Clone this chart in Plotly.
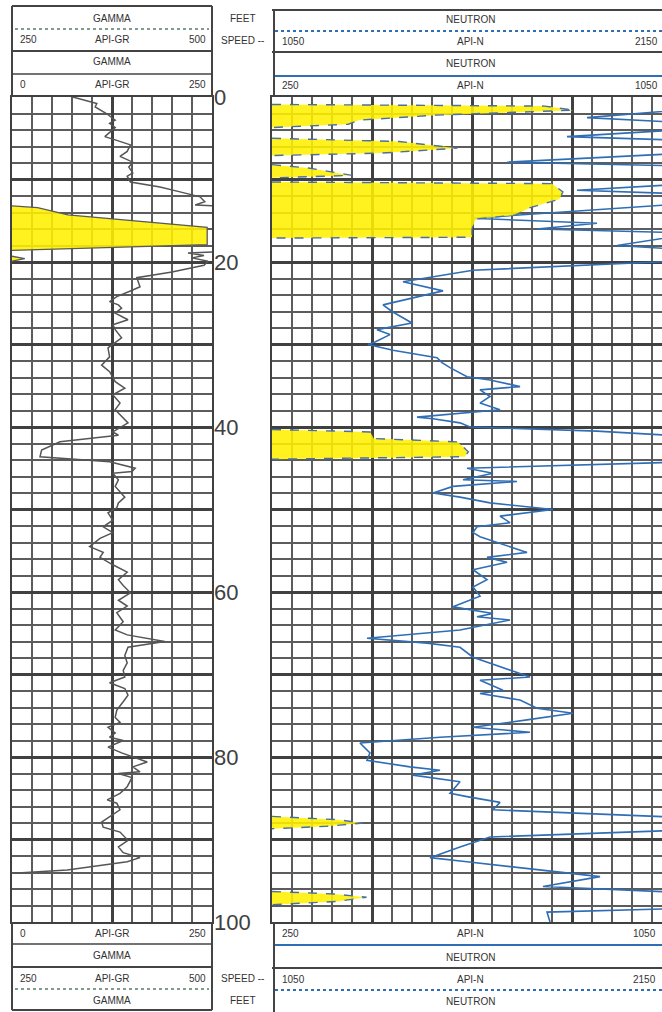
import plotly.graph_objects as go

W, H = 662, 1012
def px(x): return x / W
def py(y): return 1 - y / H

# ---------------- data ----------------
depth_labels = [0, 20, 40, 60, 80, 100]

gamma_depth = [0.0, 0.8, 1.2, 2.0, 2.8, 3.2, 3.7, 4.8, 5.2, 5.8, 6.6, 7.2, 7.9, 8.5, 9.2, 9.6,
               10.3, 10.9, 11.5, 12.1, 12.7, 13.1, 13.4, 18.6, 18.9, 19.2, 19.5, 19.9, 20.4, 21.2,
               21.9, 23.0, 23.4, 24.2, 24.8, 25.2, 25.6, 26.2, 27.0, 27.6, 28.2, 29.2, 30.4, 31.5,
               32.5, 33.3, 34.5, 35.3, 36.1, 37.1, 37.9, 39.5, 40.6, 41.0, 41.8, 42.8, 43.6, 44.2,
               45.0, 45.4, 45.6, 46.4, 47.2, 48.5, 49.2, 49.8, 50.4, 51.3, 52.1, 52.8, 53.5, 54.5,
               55.2, 55.8, 56.7, 57.6, 58.5, 59.2, 60.1, 61.0, 61.7, 62.5, 63.6, 64.6, 65.2, 66.0,
               66.7, 67.7, 68.6, 69.5, 70.3, 71.0, 71.7, 72.5, 73.3, 74.3, 75.2, 75.8, 76.4, 77.1,
               77.6, 78.0, 78.8, 79.5, 80.6, 81.2, 81.8, 82.0, 82.5, 83.6, 84.4, 85.2, 85.6, 86.4,
               87.9, 88.5, 89.1, 90.1, 90.9, 91.6, 92.2, 92.7, 93.7, 94.1]
gamma_api = [76, 106, 104, 118, 129, 122, 129, 116, 129, 148, 144, 135, 151, 146, 151, 144,
             148, 185, 210, 235, 241, 229, 300, 300, 220, 240, 225, 245, 240, 200,
             156, 160, 151, 131, 122, 133, 137, 129, 145, 126, 129, 137, 120, 122,
             112, 122, 129, 141, 126, 135, 129, 145, 126, 133, 60, 37, 35, 122,
             154, 150, 126, 133, 129, 141, 133, 131, 120, 126, 114, 126, 110, 97,
             114, 110, 126, 144, 133, 139, 148, 133, 144, 131, 139, 129, 144, 191,
             145, 141, 144, 139, 141, 122, 141, 145, 139, 131, 129, 135, 120, 129,
             122, 139, 120, 137, 169, 151, 160, 133, 150, 144, 135, 119, 131, 135,
             112, 114, 135, 145, 133, 139, 160, 144, 69, 2]

gamma_bk_depth = [13.2, 13.4, 14.3, 15.0, 15.8, 17.9, 18.3, 18.6, None, 19.3, 19.6, 19.9]
gamma_bk_api = [250, 282, 320, 400, 494, 494, 350, 250, None, 250, 266, 250]

neutron_depth = [0.0, 1.5, 2.5, 3.2, 4.0, 4.8, 5.3, 6.8, 7.9, 8.4, 10.5, 11.3, 11.8, 13.0,
                 14.7, 15.3, 16.0, 16.5, 18.0, 18.6, 19.8, 21.0, 22.4, 23.5, 25.2, 26.0, 27.4,
                 28.2, 28.8, 29.7, 30.0, 30.7, 31.6, 32.2, 32.8, 33.9, 34.3, 35.1, 35.5, 36.3,
                 37.1, 37.9, 38.8, 39.0, 39.5, 40.0, 40.5, 41.2, 44.2, 45.0, 45.6, 46.4, 46.6,
                 47.2, 48.0, 48.5, 49.2, 50.0, 50.8, 51.6, 52.1, 52.8, 53.3, 55.2, 55.8, 56.4,
                 57.3, 58.5, 59.4, 60.5, 61.8, 62.6, 63.0, 63.4, 64.6, 65.6, 66.2, 66.7, 67.9,
                 69.5, 70.3, 70.7, 71.9, 72.3, 73.1, 74.1, 74.7, 75.5, 76.4, 77.0, 77.6, 78.3,
                 79.5, 80.4, 81.2, 81.6, 82.2, 83.0, 84.4, 84.8, 85.5, 86.4, 87.4, 88.8, 89.7,
                 90.9, 92.2, 92.7, 94.5, 95.7, 96.5, 98.3, 98.8, 100.0]
neutron_api = [1100, 1080, 880, 1100, 1060, 840, 1100, 1080, 720, 1100, 1090, 860, 1100, 1060,
               650, 900, 780, 1100, 940, 1100, 1090, 652, 512, 592, 472, 490, 530,
               460, 486, 456, 442, 492, 580, 590, 606, 640, 686, 746, 666, 686,
               666, 706, 540, 572, 626, 646, 900, 1100, 1100, 640, 692, 632, 740,
               612, 572, 626, 686, 812, 706, 726, 660, 652, 666, 760, 680, 720,
               652, 680, 652, 666, 612, 692, 660, 726, 626, 440, 560, 626, 652,
               726, 766, 666, 712, 666, 746, 780, 852, 760, 652, 766, 586, 426,
               446, 440, 526, 586, 532, 626, 606, 640, 706, 692, 1100, 1100, 686,
               626, 566, 640, 906, 792, 1100, 1100, 800, 806]

neutron_bk_depth = [0.9, 1.1, 1.6, 2.2, 2.8, 3.3, 3.7, None,
                    5.0, 5.4, 6.2, 6.8, 7.1, None,
                    8.2, 8.6, 9.5, 9.8, None,
                    10.3, 10.5, 11.5, 12.4, 13.4, 14.3, 14.8, 16.0, 17.0, 17.1, None,
                    40.3, 40.6, 41.4, 41.8, 43.0, 43.6, 43.9, None,
                    87.2, 87.6, 88.0, 88.4, 88.7, None,
                    96.3, 96.6, 97.0, 97.5, 97.9]
neutron_bk_api = [1050, 1800, 1880, 1500, 1290, 1260, 1050, None,
                  1050, 1400, 1560, 1350, 1050, None,
                  1050, 1150, 1270, 1050, None,
                  1050, 1820, 1850, 1840, 1760, 1720, 1610, 1600, 1600, 1050, None,
                  1050, 1320, 1330, 1560, 1590, 1580, 1050, None,
                  1050, 1230, 1300, 1200, 1050, None,
                  1050, 1220, 1310, 1230, 1050]

GR_SCALE = [0, 250]
GR_BK_SCALE = [250, 500]
N_SCALE = [250, 1050]
N_BK_SCALE = [1050, 2150]


def split_zones(ds, vs):
    zones, cur_d, cur_v = [], [], []
    for d, v in zip(ds, vs):
        if d is None:
            if cur_d:
                zones.append((cur_d, cur_v))
            cur_d, cur_v = [], []
        else:
            cur_d.append(d)
            cur_v.append(v)
    if cur_d:
        zones.append((cur_d, cur_v))
    return zones

# ---------------- geometry ----------------
L0, L1 = 12, 212          # gamma track px
R0 = 272                  # neutron track left px (track runs past the page edge)
T0, T1 = 97, 922          # plot top / bottom px
px_per_n = 0.5            # neutron main: 800 units over 400 px
r_range_max = N_SCALE[0] + (W - R0) / px_per_n
bk_range_max = N_BK_SCALE[0] + (W - R0) * (N_BK_SCALE[1] - N_BK_SCALE[0]) / 400

YELLOW = "rgba(255,240,0,0.88)"
BLUE = "#2f6db5"
GREY = "#555555"

fig = go.Figure()

for zd, zv in split_zones(gamma_bk_depth, gamma_bk_api):
    fig.add_trace(go.Scatter(x=zv, y=zd, xaxis="x3", yaxis="y", mode="lines",
                             fill="toself", fillcolor=YELLOW,
                             line=dict(color="#5a5a5a", width=1.3),
                             hoverinfo="skip", showlegend=False))

for zd, zv in split_zones(neutron_bk_depth, neutron_bk_api):
    fig.add_trace(go.Scatter(x=zv, y=zd, xaxis="x4", yaxis="y2", mode="lines",
                             fill="toself", fillcolor=YELLOW,
                             line=dict(color="#4a6fa0", width=1.4, dash="dash"),
                             hoverinfo="skip", showlegend=False))

fig.add_trace(go.Scatter(x=gamma_api, y=gamma_depth, xaxis="x", yaxis="y", mode="lines",
                         line=dict(color=GREY, width=1.5), showlegend=False))
fig.add_trace(go.Scatter(x=neutron_api, y=neutron_depth, xaxis="x2", yaxis="y2", mode="lines",
                         line=dict(color=BLUE, width=1.6), showlegend=False))

grid_major = "#404040"
grid_minor = "#5c5c5c"
GW_MAJ, GW_MIN = 2.6, 1.5

common_x = dict(showticklabels=False, ticks="", zeroline=False, showgrid=True,
                gridcolor=grid_major, gridwidth=GW_MAJ, layer="above traces")
common_y = dict(range=[100, 0], tick0=0, dtick=10, showticklabels=False, ticks="",
                zeroline=False, showgrid=True, gridcolor=grid_major, gridwidth=GW_MAJ,
                minor=dict(tick0=0, dtick=2, showgrid=True, gridcolor=grid_minor, gridwidth=GW_MIN),
                showline=True, linecolor="#404040", linewidth=2.4, layer="above traces",
                domain=[py(T1), py(T0)])
fig.update_layout(
    width=W, height=H, margin=dict(l=0, r=0, t=0, b=0),
    paper_bgcolor="white", plot_bgcolor="white",
    xaxis=dict(domain=[px(L0), px(L1)], range=GR_SCALE, tick0=0, dtick=125,
               minor=dict(tick0=0, dtick=25, showgrid=True, gridcolor=grid_minor, gridwidth=GW_MIN),
               showline=True, linecolor="#404040", linewidth=2.4, mirror=True, anchor="y",
               **common_x),
    yaxis=dict(mirror=True, anchor="x", **common_y),
    xaxis2=dict(domain=[px(R0), 1.0], range=[N_SCALE[0], r_range_max], tick0=250, dtick=200,
                minor=dict(tick0=250, dtick=40, showgrid=True, gridcolor=grid_minor, gridwidth=GW_MIN),
                showline=True, linecolor="#404040", linewidth=2.4, mirror=True, anchor="y2",
                **common_x),
    yaxis2=dict(mirror=False, anchor="x2", **common_y),
    xaxis3=dict(domain=[px(L0), px(L1)], range=GR_BK_SCALE, overlaying="x", anchor="y",
                visible=False),
    xaxis4=dict(domain=[px(R0), 1.0], range=[N_BK_SCALE[0], bk_range_max], overlaying="x2",
                anchor="y2", visible=False),
)

for d in depth_labels:
    fig.add_annotation(x=px(212), xref="paper", y=d, yref="y", text=str(d), showarrow=False,
                       xanchor="left", yanchor="middle",
                       font=dict(family="Liberation Sans, Arial", size=22, color="#404040"))

TXT = dict(family="Liberation Sans Narrow, Liberation Sans, Arial", size=10, color="#333")

def text(x, y, s, anchor="center", size=10):
    f = dict(TXT)
    f["size"] = size
    fig.add_annotation(x=px(x), y=py(y), xref="paper", yref="paper", text=s, showarrow=False,
                       xanchor=anchor, yanchor="middle", font=f)

def hline(x0, x1, y, color="#444", width=2, dash="solid"):
    fig.add_shape(type="line", xref="paper", yref="paper", x0=px(x0), x1=px(x1),
                  y0=py(y), y1=py(y), line=dict(color=color, width=width, dash=dash))

def vline(x, y0, y1, color="#444", width=2):
    fig.add_shape(type="line", xref="paper", yref="paper", x0=px(x), x1=px(x),
                  y0=py(y0), y1=py(y1), line=dict(color=color, width=width))

GREEN_DOT = "#7f9c8e"

# ---- top header: gamma ----
hline(L0, L1, 6); hline(L0, L1, 51); hline(L0, L1, 74, width=1.5)
vline(L0, 6, T0); vline(L1, 6, T0)
text(112, 18, "GAMMA")
hline(L0 + 3, L1 - 3, 29, color=GREEN_DOT, width=2, dash="dot")
text(L0 + 6, 40, f"{GR_BK_SCALE[0]}", "left"); text(112, 40, "API-GR"); text(L1 - 4, 40, f"{GR_BK_SCALE[1]}", "right")
text(112, 62, "GAMMA")
text(L0 + 6, 85, f"{GR_SCALE[0]}", "left"); text(112, 85, "API-GR"); text(L1 - 4, 85, f"{GR_SCALE[1]}", "right")

# ---- top header: middle ----
text(243, 18, "FEET")
text(242, 41, "SPEED --")

# ---- top header: neutron ----
hline(R0, W, 10); hline(R0, W, 52)
vline(R0 + 2, 10, T0)
text(470, 20, "NEUTRON")
hline(R0 + 3, W, 31, color=BLUE, width=2, dash="dot")
text(R0 + 8, 42, f"{N_BK_SCALE[0]}", "left"); text(470, 42, "API-N"); text(W - 2, 42, f"{N_BK_SCALE[1]}", "right")
text(470, 64, "NEUTRON")
hline(R0 + 3, W, 76, color=BLUE, width=2)
text(R0 + 8, 86, f"{N_SCALE[0]}", "left"); text(470, 86, "API-N"); text(W - 2, 86, f"{N_SCALE[1]}", "right")

# ---- bottom header: gamma ----
hline(L0, L1, 944, width=1.5); hline(L0, L1, 967); hline(L0, L1, 1010)
vline(L0, T1, 1010); vline(L1, T1, 1010)
text(L0 + 6, 933, f"{GR_SCALE[0]}", "left"); text(112, 933, "API-GR"); text(L1 - 4, 933, f"{GR_SCALE[1]}", "right")
text(112, 955, "GAMMA")
text(L0 + 6, 978, f"{GR_BK_SCALE[0]}", "left"); text(112, 978, "API-GR"); text(L1 - 4, 978, f"{GR_BK_SCALE[1]}", "right")
hline(L0 + 3, L1 - 3, 989, color=GREEN_DOT, width=2, dash="dot")
text(112, 1000, "GAMMA")

# ---- bottom header: middle ----
text(242, 978, "SPEED --")
text(243, 1000, "FEET")

# ---- bottom header: neutron ----
vline(R0 + 2, T1, 1012)
text(R0 + 8, 933, f"{N_SCALE[0]}", "left"); text(470, 933, "API-N"); text(W - 4, 933, f"{N_SCALE[1]}", "right")
hline(R0 + 3, W, 945, color=BLUE, width=2)
text(470, 957, "NEUTRON")
hline(R0, W, 968)
text(R0 + 8, 979, f"{N_BK_SCALE[0]}", "left"); text(470, 979, "API-N"); text(W - 4, 979, f"{N_BK_SCALE[1]}", "right")
hline(R0 + 3, W, 990, color=BLUE, width=2, dash="dot")
text(470, 1001, "NEUTRON")

fig.write_html("out.html", config={"displayModeBar": False},
               post_script="document.body.style.margin='0';document.body.style.overflow='hidden';")
